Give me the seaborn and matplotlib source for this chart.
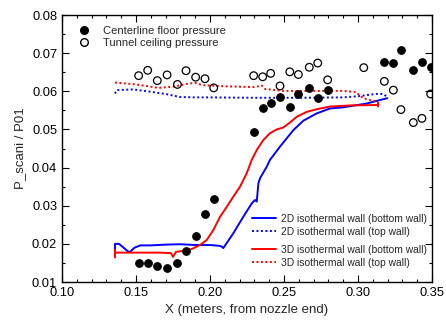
import numpy as np
import pandas as pd
import matplotlib
matplotlib.use("Agg")
import matplotlib.pyplot as plt
from matplotlib.ticker import MultipleLocator
from matplotlib.lines import Line2D
import seaborn as sns

# Measured wall pressures
floor_x = [0.152, 0.158, 0.1644, 0.171, 0.178, 0.184, 0.1903, 0.1966, 0.2025,
           0.2295, 0.2356, 0.241, 0.2473, 0.2539, 0.2597, 0.2671, 0.2728, 0.2795,
           0.3178, 0.3239, 0.329, 0.3374, 0.3432, 0.3491]
floor_p = [0.0151, 0.0151, 0.0142, 0.0137, 0.0151, 0.0181, 0.0220, 0.0278, 0.0318,
           0.0494, 0.0555, 0.0568, 0.0585, 0.0558, 0.0592, 0.0608, 0.0582, 0.0603,
           0.0676, 0.0673, 0.0707, 0.0655, 0.0678, 0.0665]

ceil_x = [0.1518, 0.1579, 0.1644, 0.171, 0.178, 0.1838, 0.1903, 0.1966, 0.2025,
          0.2295, 0.2356, 0.241, 0.2473, 0.2539, 0.2597, 0.2671, 0.2728, 0.2795,
          0.3039, 0.3178, 0.3239, 0.329, 0.3374, 0.3432, 0.3491]
ceil_p = [0.0641, 0.0655, 0.0628, 0.0643, 0.0618, 0.0654, 0.0637, 0.0633, 0.0609,
          0.0641, 0.0638, 0.0647, 0.0614, 0.0651, 0.0644, 0.0663, 0.0674, 0.0630,
          0.0662, 0.0626, 0.0603, 0.0552, 0.0518, 0.0529, 0.0593]

# 2D isothermal wall simulation
bot2d_x = [0.1358, 0.1358, 0.1385, 0.1410, 0.1446, 0.1460, 0.1490, 0.1530, 0.1600,
           0.1700, 0.1800, 0.1900, 0.2000, 0.2060, 0.2079, 0.2090, 0.2158, 0.2225,
           0.2282, 0.2304, 0.2316, 0.2327, 0.2338, 0.2383, 0.2405, 0.2473, 0.2563,
           0.2631, 0.2721, 0.2811, 0.2901, 0.3059, 0.3198]
bot2d_p = [0.0182, 0.0200, 0.0200, 0.0192, 0.0180, 0.0179, 0.0190, 0.0196, 0.0196,
           0.0198, 0.0199, 0.0197, 0.0197, 0.0195, 0.0193, 0.0189, 0.0228, 0.0271,
           0.0306, 0.0315, 0.0311, 0.0359, 0.0372, 0.0402, 0.0420, 0.0455, 0.0498,
           0.0523, 0.0542, 0.0555, 0.0558, 0.0568, 0.0582]

top2d_x = [0.1358, 0.1370, 0.1480, 0.1595, 0.1700, 0.1797, 0.1900, 0.2000, 0.2300,
           0.2600, 0.2900, 0.3000, 0.3100, 0.3150, 0.3180, 0.3198]
top2d_p = [0.0594, 0.0603, 0.0605, 0.0599, 0.0593, 0.0585, 0.0584, 0.0584, 0.0583,
           0.0583, 0.0584, 0.0587, 0.0592, 0.0594, 0.0591, 0.0582]

# 3D isothermal wall simulation
bot3d_x = [0.1358, 0.1358, 0.1358, 0.1450, 0.1550, 0.1650, 0.1735, 0.1750, 0.1770,
           0.1831, 0.1880, 0.1932, 0.1978, 0.2022, 0.2068, 0.2113, 0.2158, 0.2203,
           0.2248, 0.2282, 0.2316, 0.2360, 0.2405, 0.2451, 0.2495, 0.2540, 0.2586,
           0.2653, 0.2721, 0.2811, 0.2950, 0.3135, 0.3135, 0.3135]
bot3d_p = [0.0164, 0.0184, 0.0177, 0.0177, 0.0177, 0.0177, 0.0176, 0.0166, 0.0179,
           0.0182, 0.0187, 0.0197, 0.0210, 0.0236, 0.0271, 0.0297, 0.0324, 0.0350,
           0.0385, 0.0420, 0.0446, 0.0472, 0.0490, 0.0500, 0.0505, 0.0518, 0.0533,
           0.0546, 0.0553, 0.0560, 0.0563, 0.0564, 0.0570, 0.0560]

top3d_x = [0.1358, 0.1500, 0.1650, 0.1750, 0.1850, 0.1900, 0.1950, 0.2100, 0.2300,
           0.2350, 0.2372, 0.2500, 0.2700, 0.2900, 0.2985, 0.3035, 0.3100, 0.3135]
top3d_p = [0.0623, 0.0618, 0.0609, 0.0612, 0.0620, 0.0622, 0.0616, 0.0613, 0.0611,
           0.0615, 0.0606, 0.0601, 0.0601, 0.0601, 0.0598, 0.0582, 0.0575, 0.0574]

sns.set_style("ticks")
plt.rcParams["font.family"] = ["Liberation Sans", "DejaVu Sans"]

fig = plt.figure(figsize=(4.46, 3.27), dpi=100)
ax = fig.add_axes([0.139, 0.1376, 0.8296, 0.8165])

dot = (0, (1, 1.3))
series = [
    (bot2d_x, bot2d_p, "blue", "-", "2D isothermal wall (bottom wall)"),
    (top2d_x, top2d_p, "blue", dot, "2D isothermal wall (top wall)"),
    (bot3d_x, bot3d_p, "red", "-", "3D isothermal wall (bottom wall)"),
    (top3d_x, top3d_p, "red", dot, "3D isothermal wall (top wall)"),
]
handles = []
for xs, ps, col, ls, lab in series:
    df = pd.DataFrame({"x": xs, "p": ps})
    sns.lineplot(data=df, x="x", y="p", sort=False, estimator=None, ax=ax,
                 color=col, linewidth=1.4, linestyle=ls, legend=False)
    handles.append(Line2D([], [], color=col, linewidth=1.4, linestyle=ls, label=lab))

floor_df = pd.DataFrame({"x": floor_x, "p": floor_p})
ceil_df = pd.DataFrame({"x": ceil_x, "p": ceil_p})
sns.scatterplot(data=floor_df, x="x", y="p", ax=ax, color="black", s=30,
                edgecolor="black", linewidth=0.8, zorder=5, legend=False)
sns.scatterplot(data=ceil_df, x="x", y="p", ax=ax, facecolor="none", s=30,
                edgecolor="black", linewidth=0.9, zorder=5, legend=False)

ax.set_xlim(0.10, 0.35)
ax.set_ylim(0.01, 0.08)
ax.xaxis.set_major_locator(MultipleLocator(0.05))
ax.xaxis.set_minor_locator(MultipleLocator(0.01))
ax.yaxis.set_major_locator(MultipleLocator(0.01))
ax.yaxis.set_minor_locator(MultipleLocator(0.005))
ax.xaxis.set_major_formatter(plt.FormatStrFormatter("%.2f"))
ax.yaxis.set_major_formatter(plt.FormatStrFormatter("%.2f"))
ax.tick_params(which="both", direction="in", top=True, right=True, width=0.8,
               labelsize=9.3, colors="black")
ax.tick_params(which="major", length=5)
ax.tick_params(which="minor", length=2.5)
for sp in ax.spines.values():
    sp.set_linewidth(1.0)
    sp.set_color("black")

ax.set_xlabel("X (meters, from nozzle end)", fontsize=9.5)
ax.set_ylabel("P_scani / P01", fontsize=9.5)

mk_handles = [
    Line2D([], [], marker="o", linestyle="none", markersize=5.5, color="black",
           label="Centerline floor pressure"),
    Line2D([], [], marker="o", linestyle="none", markersize=5.5, markerfacecolor="none",
           markeredgecolor="black", label="Tunnel ceiling pressure"),
]
leg1 = ax.legend(handles=mk_handles, loc="center left", bbox_to_anchor=(0.0446, 0.918),
                 frameon=False, fontsize=8, handlelength=1.0, handletextpad=1.2,
                 borderpad=0, borderaxespad=0, labelspacing=0.25)
ax.add_artist(leg1)
leg2 = ax.legend(handles=handles[:2], loc="center left", bbox_to_anchor=(0.5135, 0.2116),
                 frameon=False, fontsize=7.4, handlelength=2.3, handletextpad=0.55,
                 borderpad=0, borderaxespad=0, labelspacing=0.3)
ax.add_artist(leg2)
ax.legend(handles=handles[2:], loc="center left", bbox_to_anchor=(0.5135, 0.0955),
          frameon=False, fontsize=7.4, handlelength=2.3, handletextpad=0.55,
          borderpad=0, borderaxespad=0, labelspacing=0.3)

fig.savefig("out.png", dpi=100)
